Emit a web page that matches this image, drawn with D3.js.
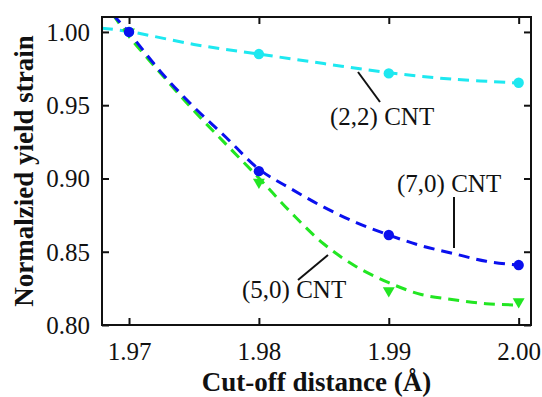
<!DOCTYPE html>
<html>
<head>
<meta charset="utf-8">
<script src="https://cdn.jsdelivr.net/npm/d3@7"></script>
<style>
  html, body { margin: 0; padding: 0; background: #fff; }
  svg { display: block; }
</style>
</head>
<body>
<svg id="chart" width="542" height="397"></svg>
<script>
// ---------- data ----------
const xTicks = [1.97, 1.98, 1.99, 2.00];
const yTicks = [0.80, 0.85, 0.90, 0.95, 1.00];
const cutoff = [1.97, 1.98, 1.99, 2.00];

const cnt22 = [1.000, 0.9849, 0.9717, 0.9653];
const cnt70 = [1.000, 0.9050, 0.8614, 0.8409];
const cnt50 = [1.000, 0.8975, 0.8234, 0.8159];

// dashed fit curves
const fit22X = [1.96792, 1.97, 1.975, 1.98, 1.985, 1.99, 1.995, 2.00];
const fit22Y = [1.0026, 1.0003, 0.9915, 0.9849, 0.9784, 0.9722, 0.9677, 0.9652];
const fitGridX = [1.96875, 1.97, 1.9725, 1.975, 1.9775, 1.98, 1.9825, 1.985, 1.9875, 1.99, 1.9925, 1.995, 1.9975, 2.00];
const fit70Y = [1.012, 0.9995, 0.9722, 0.9487, 0.9278, 0.9064, 0.8928, 0.8804, 0.8699, 0.8614, 0.8541, 0.8487, 0.8435, 0.8409];
const fit50Y = [1.012, 0.9970, 0.9711, 0.9462, 0.9231, 0.9003, 0.8765, 0.8553, 0.8398, 0.8289, 0.8208, 0.8173, 0.8145, 0.8136];

const labels = ["(2,2) CNT", "(7,0) CNT", "(5,0) CNT"];
const xTitle = "Cut-off distance (Å)";
const yTitle = "Normalzied yield strain";

// ---------- layout ----------
const L = 102, T = 17, R = 531, B = 325;
const svg = d3.select("#chart");
const x = d3.scaleLinear().domain([1.96792, 2.00095]).range([L, R]);
const y = d3.scaleLinear().domain([0.80, 1.0102]).range([B, T]);

const cCyan = "#1ee8f0", cBlue = "#0a10ee", cGreen = "#22e622";
const FONT = "Liberation Serif";

svg.append("clipPath").attr("id", "clip")
  .append("rect").attr("x", L).attr("y", T).attr("width", R - L).attr("height", B - T);

const gPlot = svg.append("g").attr("clip-path", "url(#clip)");
const line = d3.line().x(d => x(d[0])).y(d => y(d[1])).curve(d3.curveCatmullRom.alpha(0.5));

function drawFit(xs, ys, color) {
  gPlot.append("path")
    .attr("d", line(xs.map((v, i) => [v, ys[i]])))
    .attr("fill", "none").attr("stroke", color)
    .attr("stroke-width", 3).attr("stroke-dasharray", "11,7");
}
drawFit(fit22X, fit22Y, cCyan);
drawFit(fitGridX, fit50Y, cGreen);
drawFit(fitGridX, fit70Y, cBlue);

// markers
gPlot.selectAll("circle.c22").data(cutoff.map((v, i) => [v, cnt22[i]])).enter()
  .append("circle").attr("cx", d => x(d[0])).attr("cy", d => y(d[1])).attr("r", 5.2).attr("fill", cCyan);
const tri = d3.symbol().type(d3.symbolTriangle).size(62);
gPlot.selectAll("path.c50").data(cutoff.map((v, i) => [v, cnt50[i]])).enter()
  .append("path").attr("d", tri)
  .attr("transform", d => `translate(${x(d[0])},${y(d[1])}) rotate(180)`)
  .attr("fill", cGreen);
gPlot.selectAll("circle.c70").data(cutoff.map((v, i) => [v, cnt70[i]])).enter()
  .append("circle").attr("cx", d => x(d[0])).attr("cy", d => y(d[1])).attr("r", 5.2).attr("fill", cBlue);

// ---------- axes ----------
const tickLen = 7;
const axB = svg.append("g").attr("transform", `translate(0,${B})`)
  .call(d3.axisBottom(x).tickValues(xTicks).tickFormat(d3.format(".2f")).tickSizeInner(-tickLen).tickSizeOuter(0));
const axT = svg.append("g").attr("transform", `translate(0,${T})`)
  .call(d3.axisTop(x).tickValues(xTicks).tickFormat("").tickSizeInner(-tickLen).tickSizeOuter(0));
const axL = svg.append("g").attr("transform", `translate(${L},0)`)
  .call(d3.axisLeft(y).tickValues(yTicks).tickFormat(d3.format(".2f")).tickSizeInner(-tickLen).tickSizeOuter(0));
const axR = svg.append("g").attr("transform", `translate(${R},0)`)
  .call(d3.axisRight(y).tickValues(yTicks).tickFormat("").tickSizeInner(-tickLen).tickSizeOuter(0));

[axB, axT, axL, axR].forEach(a => {
  a.attr("font-family", FONT).attr("font-size", 25);
  a.select(".domain").remove();
  a.selectAll(".tick line").attr("stroke", "#111").attr("stroke-width", 2);
  a.selectAll("text").attr("font-family", FONT).attr("font-size", 25).attr("fill", "#111");
});
axL.selectAll(".tick text").attr("x", -12).attr("dy", "0.34em");
axB.selectAll(".tick text").attr("y", 35).attr("dy", 0);

svg.append("rect").attr("x", L).attr("y", T).attr("width", R - L).attr("height", B - T)
  .attr("fill", "none").attr("stroke", "#111").attr("stroke-width", 2);

// ---------- titles ----------
svg.append("text").attr("x", (L + R) / 2).attr("y", 391)
  .attr("text-anchor", "middle").attr("font-family", FONT).attr("font-weight", "bold")
  .attr("font-size", 27).attr("fill", "#111").text(xTitle);
svg.append("text").attr("transform", `translate(33,${(T + B) / 2}) rotate(-90)`)
  .attr("text-anchor", "middle").attr("font-family", FONT).attr("font-weight", "bold")
  .attr("font-size", 27).attr("fill", "#111").text(yTitle);

// ---------- annotations ----------
const ann = [
  { t: labels[0], tx: 330, ty: 125, x1: 358, y1: 72, x2: 380, y2: 102 },
  { t: labels[1], tx: 397, ty: 192, x1: 454, y1: 197, x2: 454, y2: 248 },
  { t: labels[2], tx: 242, ty: 298, x1: 298, y1: 280, x2: 328, y2: 255 }
];
ann.forEach(a => {
  svg.append("line").attr("x1", a.x1).attr("y1", a.y1).attr("x2", a.x2).attr("y2", a.y2)
    .attr("stroke", "#111").attr("stroke-width", 2);
  svg.append("text").attr("x", a.tx).attr("y", a.ty).attr("font-family", FONT)
    .attr("font-size", 25).attr("fill", "#111").text(a.t);
});
</script>
</body>
</html>
